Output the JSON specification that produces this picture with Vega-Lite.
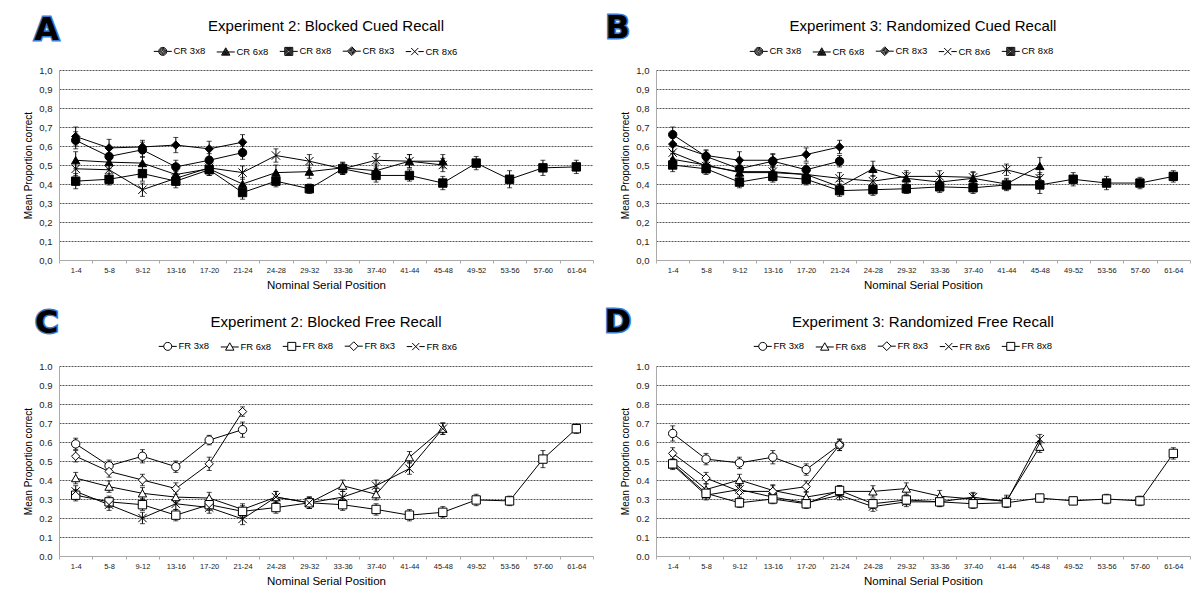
{
"$schema": "https://vega.github.io/schema/vega-lite/v6.json",
"background": "white",
"padding": {"left": 23, "top": 11, "right": 0, "bottom": 0},
"bounds": "flush",
"columns": 2,
"spacing": {"row": 106, "column": 63},
"resolve": {"scale": {"shape": "independent", "x": "independent", "y": "independent"}, "legend": {"shape": "independent"}},
"config": {
 "font": "Liberation Sans",
 "view": {"stroke": null},
 "title": {"font": "Liberation Sans", "fontSize": 15, "fontWeight": "normal", "color": "black", "anchor": "middle", "frame": "group", "baseline": "alphabetic"},
 "axisX": {"labelFontSize": 7.5, "labelAngle": 0, "labelColor": "#222", "labelPadding": 3, "labelOverlap": false, "tickBand": "extent", "tickSize": 3, "tickColor": "#aaa", "domainColor": "#aaa", "grid": false, "titleFontSize": 11.5, "titleFontWeight": "normal", "titleColor": "black", "titlePadding": 6},
 "axisY": {"labelFontSize": 9.5, "labelColor": "#222", "labelPadding": 7, "ticks": false, "domainColor": "#aaa", "grid": true, "gridColor": "#555", "gridDash": [2, 1], "titleFontSize": 10, "titleFontWeight": "normal", "titleColor": "black", "titlePadding": 5}
},
"concat": [
{
 "width": 534, "height": 190,
 "title": {"text": "Experiment 2: Blocked Cued Recall", "offset": -20.6},
 "resolve": {"scale": {"shape": "independent"}},
 "data": {"values": [
  {"s":"CR 3x8","x":"1-4","m":0.63,"e":0.045},{"s":"CR 3x8","x":"5-8","m":0.545,"e":0.04},{"s":"CR 3x8","x":"9-12","m":0.58,"e":0.04},{"s":"CR 3x8","x":"13-16","m":0.49,"e":0.035},{"s":"CR 3x8","x":"17-20","m":0.525,"e":0.035},{"s":"CR 3x8","x":"21-24","m":0.565,"e":0.035},
  {"s":"CR 6x8","x":"1-4","m":0.525,"e":0.045},{"s":"CR 6x8","x":"5-8","m":0.515,"e":0.035},{"s":"CR 6x8","x":"9-12","m":0.51,"e":0.035},{"s":"CR 6x8","x":"13-16","m":0.45,"e":0.035},{"s":"CR 6x8","x":"17-20","m":0.48,"e":0.035},{"s":"CR 6x8","x":"21-24","m":0.40,"e":0.035},{"s":"CR 6x8","x":"24-28","m":0.46,"e":0.04},{"s":"CR 6x8","x":"29-32","m":0.465,"e":0.035},{"s":"CR 6x8","x":"33-36","m":0.485,"e":0.03},{"s":"CR 6x8","x":"37-40","m":0.47,"e":0.035},{"s":"CR 6x8","x":"41-44","m":0.52,"e":0.035},{"s":"CR 6x8","x":"45-48","m":0.52,"e":0.035},
  {"s":"CR 8x8","x":"1-4","m":0.415,"e":0.04},{"s":"CR 8x8","x":"5-8","m":0.425,"e":0.03},{"s":"CR 8x8","x":"9-12","m":0.455,"e":0.04},{"s":"CR 8x8","x":"13-16","m":0.415,"e":0.035},{"s":"CR 8x8","x":"17-20","m":0.475,"e":0.03},{"s":"CR 8x8","x":"21-24","m":0.355,"e":0.035},{"s":"CR 8x8","x":"24-28","m":0.415,"e":0.03},{"s":"CR 8x8","x":"29-32","m":0.375,"e":0.025},{"s":"CR 8x8","x":"33-36","m":0.48,"e":0.03},{"s":"CR 8x8","x":"37-40","m":0.445,"e":0.035},{"s":"CR 8x8","x":"41-44","m":0.445,"e":0.03},{"s":"CR 8x8","x":"45-48","m":0.405,"e":0.035},{"s":"CR 8x8","x":"49-52","m":0.51,"e":0.035},{"s":"CR 8x8","x":"53-56","m":0.425,"e":0.045},{"s":"CR 8x8","x":"57-60","m":0.485,"e":0.04},{"s":"CR 8x8","x":"61-64","m":0.49,"e":0.035},
  {"s":"CR 8x3","x":"1-4","m":0.65,"e":0.05},{"s":"CR 8x3","x":"5-8","m":0.59,"e":0.045},{"s":"CR 8x3","x":"9-12","m":0.595,"e":0.035},{"s":"CR 8x3","x":"13-16","m":0.605,"e":0.04},{"s":"CR 8x3","x":"17-20","m":0.585,"e":0.04},{"s":"CR 8x3","x":"21-24","m":0.62,"e":0.04},
  {"s":"CR 8x6","x":"1-4","m":0.48,"e":0.035},{"s":"CR 8x6","x":"5-8","m":0.475,"e":0.035},{"s":"CR 8x6","x":"9-12","m":0.37,"e":0.035},{"s":"CR 8x6","x":"13-16","m":0.43,"e":0.035},{"s":"CR 8x6","x":"17-20","m":0.485,"e":0.03},{"s":"CR 8x6","x":"21-24","m":0.46,"e":0.035},{"s":"CR 8x6","x":"24-28","m":0.55,"e":0.035},{"s":"CR 8x6","x":"29-32","m":0.52,"e":0.035},{"s":"CR 8x6","x":"33-36","m":0.48,"e":0.03},{"s":"CR 8x6","x":"37-40","m":0.525,"e":0.035},{"s":"CR 8x6","x":"41-44","m":0.52,"e":0.035},{"s":"CR 8x6","x":"45-48","m":0.50,"e":0.035}
 ]},
 "encoding": {
  "x": {"field": "x", "type": "ordinal", "sort": ["1-4","5-8","9-12","13-16","17-20","21-24","24-28","29-32","33-36","37-40","41-44","45-48","49-52","53-56","57-60","61-64"], "axis": {"title": "Nominal Serial Position"}},
  "y": {"field": "m", "type": "quantitative", "scale": {"domain": [0, 1], "nice": false, "zero": false}, "axis": {"title": "Mean Proportion correct", "values": [0,0.1,0.2,0.3,0.4,0.5,0.6,0.7,0.8,0.9,1], "labelExpr": "replace(format(datum.value, '.1f'), '.', ',')", "gridOpacity": {"condition": {"test": "datum.value === 0", "value": 0}, "value": 1}}}
 },
 "layer": [
  {"mark": {"type": "line", "color": "black", "strokeWidth": 1}, "encoding": {"detail": {"field": "s", "type": "nominal"}}},
  {"mark": {"type": "errorbar", "color": "black", "thickness": 1, "ticks": {"size": 5, "color": "black", "thickness": 1}}, "encoding": {"yError": {"field": "e"}}},
  {"mark": {"type": "point", "filled": true, "fill": "black", "stroke": "black", "strokeWidth": 1, "size": 70, "opacity": 1},
   "encoding": {"shape": {"field": "s", "type": "nominal", "legend": null,
     "scale": {"domain": ["CR 3x8","CR 6x8","CR 8x8","CR 8x3","CR 8x6"], "range": ["circle","triangle-up","square","diamond","M-1,-1L1,1M-1,1L1,-1"]}}}},
  {"transform": [{"filter": "false"}], "mark": {"type": "point", "filled": false, "color": "black", "strokeWidth": 1, "size": 64, "opacity": 1},
   "encoding": {"shape": {"field": "s", "type": "nominal",
     "scale": {"domain": ["CR 3x8","CR 6x8","CR 8x8","CR 8x3","CR 8x6"], "range": [
       "M-2.25,0L-1,0M1,0L2.25,0M1,0A1,1,0,1,1,-1,0A1,1,0,1,1,1,0ZM0.75,0A0.75,0.75,0,1,1,-0.75,0A0.75,0.75,0,1,1,0.75,0ZM0.5,0A0.5,0.5,0,1,1,-0.5,0A0.5,0.5,0,1,1,0.5,0ZM0.25,0A0.25,0.25,0,1,1,-0.25,0A0.25,0.25,0,1,1,0.25,0Z",
       "M-2.25,0.1L-0.55,0.1M0.55,0.1L2.25,0.1M0,-0.95L1.05,0.9L-1.05,0.9ZM0,-0.58L0.74,0.71L-0.74,0.71ZM0,-0.21L0.42,0.53L-0.42,0.53ZM0,0.1L0.16,0.37L-0.16,0.37Z",
       "M-2.25,0L-1,0M1,0L2.25,0M-1,-1L1,-1L1,1L-1,1ZM-0.75,-0.75L0.75,-0.75L0.75,0.75L-0.75,0.75ZM-0.5,-0.5L0.5,-0.5L0.5,0.5L-0.5,0.5ZM-0.25,-0.25L0.25,-0.25L0.25,0.25L-0.25,0.25Z",
       "M-2.25,0L-1.1,0M1.1,0L2.25,0M0,-1.1L1.1,0L0,1.1L-1.1,0ZM0,-0.8L0.8,0L0,0.8L-0.8,0ZM0,-0.5L0.5,0L0,0.5L-0.5,0ZM0,-0.2L0.2,0L0,0.2L-0.2,0Z",
       "M-2.25,0L-0.9,0M0.9,0L2.25,0M-0.9,-0.9L0.9,0.9M-0.9,0.9L0.9,-0.9"]},
     "legend": {"orient": "none", "legendX": 99, "legendY": -24, "direction": "horizontal", "title": null, "labelFontSize": 9.5, "labelColor": "black", "labelFont": "Liberation Sans", "symbolSize": 64, "labelOffset": 6, "columnPadding": 8, "padding": 0, "symbolStrokeWidth": 1, "symbolOpacity": 1}}}},
  {"transform": [{"filter": "datum.s === 'CR 8x8' && datum.x === '1-4'"}], "mark": {"type": "text", "text": "A", "font": "DejaVu Sans", "fontWeight": "bold", "fontSize": 32, "align": "center", "baseline": "alphabetic", "dx": -29, "fill": "#3b7bd0", "stroke": "#3b7bd0", "strokeWidth": 3}, "encoding": {"x": {"datum": "1-4"}, "y": {"datum": 1.16}}},
  {"transform": [{"filter": "datum.s === 'CR 8x8' && datum.x === '1-4'"}], "mark": {"type": "text", "text": "A", "font": "DejaVu Sans", "fontWeight": "bold", "fontSize": 32, "align": "center", "baseline": "alphabetic", "dx": -29, "fill": "black"}, "encoding": {"x": {"datum": "1-4"}, "y": {"datum": 1.16}}}
 ]
},
{
 "width": 534, "height": 190,
 "title": {"text": "Experiment 3: Randomized Cued Recall", "offset": -22.5},
 "resolve": {"scale": {"shape": "independent"}},
 "data": {"values": [
  {"s":"CR 3x8","x":"1-4","m":0.66,"e":0.04},{"s":"CR 3x8","x":"5-8","m":0.545,"e":0.03},{"s":"CR 3x8","x":"9-12","m":0.48,"e":0.03},{"s":"CR 3x8","x":"13-16","m":0.52,"e":0.035},{"s":"CR 3x8","x":"17-20","m":0.475,"e":0.035},{"s":"CR 3x8","x":"21-24","m":0.52,"e":0.03},
  {"s":"CR 6x8","x":"1-4","m":0.53,"e":0.03},{"s":"CR 6x8","x":"5-8","m":0.50,"e":0.03},{"s":"CR 6x8","x":"9-12","m":0.46,"e":0.03},{"s":"CR 6x8","x":"13-16","m":0.46,"e":0.03},{"s":"CR 6x8","x":"17-20","m":0.45,"e":0.03},{"s":"CR 6x8","x":"21-24","m":0.385,"e":0.03},{"s":"CR 6x8","x":"24-28","m":0.48,"e":0.04},{"s":"CR 6x8","x":"29-32","m":0.43,"e":0.03},{"s":"CR 6x8","x":"33-36","m":0.41,"e":0.03},{"s":"CR 6x8","x":"37-40","m":0.43,"e":0.03},{"s":"CR 6x8","x":"41-44","m":0.40,"e":0.03},{"s":"CR 6x8","x":"45-48","m":0.495,"e":0.045},
  {"s":"CR 8x3","x":"1-4","m":0.61,"e":0.04},{"s":"CR 8x3","x":"5-8","m":0.55,"e":0.03},{"s":"CR 8x3","x":"9-12","m":0.525,"e":0.045},{"s":"CR 8x3","x":"13-16","m":0.525,"e":0.035},{"s":"CR 8x3","x":"17-20","m":0.555,"e":0.035},{"s":"CR 8x3","x":"21-24","m":0.595,"e":0.035},
  {"s":"CR 8x6","x":"1-4","m":0.565,"e":0.03},{"s":"CR 8x6","x":"5-8","m":0.495,"e":0.03},{"s":"CR 8x6","x":"9-12","m":0.465,"e":0.03},{"s":"CR 8x6","x":"13-16","m":0.465,"e":0.03},{"s":"CR 8x6","x":"17-20","m":0.45,"e":0.03},{"s":"CR 8x6","x":"21-24","m":0.43,"e":0.03},{"s":"CR 8x6","x":"24-28","m":0.415,"e":0.03},{"s":"CR 8x6","x":"29-32","m":0.44,"e":0.03},{"s":"CR 8x6","x":"33-36","m":0.44,"e":0.03},{"s":"CR 8x6","x":"37-40","m":0.435,"e":0.03},{"s":"CR 8x6","x":"41-44","m":0.475,"e":0.03},{"s":"CR 8x6","x":"45-48","m":0.43,"e":0.03},
  {"s":"CR 8x8","x":"1-4","m":0.50,"e":0.035},{"s":"CR 8x8","x":"5-8","m":0.48,"e":0.03},{"s":"CR 8x8","x":"9-12","m":0.41,"e":0.03},{"s":"CR 8x8","x":"13-16","m":0.44,"e":0.03},{"s":"CR 8x8","x":"17-20","m":0.425,"e":0.03},{"s":"CR 8x8","x":"21-24","m":0.365,"e":0.03},{"s":"CR 8x8","x":"24-28","m":0.37,"e":0.03},{"s":"CR 8x8","x":"29-32","m":0.375,"e":0.025},{"s":"CR 8x8","x":"33-36","m":0.385,"e":0.03},{"s":"CR 8x8","x":"37-40","m":0.38,"e":0.03},{"s":"CR 8x8","x":"41-44","m":0.395,"e":0.03},{"s":"CR 8x8","x":"45-48","m":0.395,"e":0.045},{"s":"CR 8x8","x":"49-52","m":0.425,"e":0.035},{"s":"CR 8x8","x":"53-56","m":0.405,"e":0.035},{"s":"CR 8x8","x":"57-60","m":0.405,"e":0.03},{"s":"CR 8x8","x":"61-64","m":0.44,"e":0.03}
 ]},
 "encoding": {
  "x": {"field": "x", "type": "ordinal", "sort": ["1-4","5-8","9-12","13-16","17-20","21-24","24-28","29-32","33-36","37-40","41-44","45-48","49-52","53-56","57-60","61-64"], "axis": {"title": "Nominal Serial Position"}},
  "y": {"field": "m", "type": "quantitative", "scale": {"domain": [0, 1], "nice": false, "zero": false}, "axis": {"title": "Mean Proportion correct", "values": [0,0.1,0.2,0.3,0.4,0.5,0.6,0.7,0.8,0.9,1], "labelExpr": "replace(format(datum.value, '.1f'), '.', ',')", "gridOpacity": {"condition": {"test": "datum.value === 0", "value": 0}, "value": 1}}}
 },
 "layer": [
  {"mark": {"type": "line", "color": "black", "strokeWidth": 1}, "encoding": {"detail": {"field": "s", "type": "nominal"}}},
  {"mark": {"type": "errorbar", "color": "black", "thickness": 1, "ticks": {"size": 5, "color": "black", "thickness": 1}}, "encoding": {"yError": {"field": "e"}}},
  {"mark": {"type": "point", "filled": true, "fill": "black", "stroke": "black", "strokeWidth": 1, "size": 70, "opacity": 1},
   "encoding": {"shape": {"field": "s", "type": "nominal", "legend": null,
     "scale": {"domain": ["CR 3x8","CR 6x8","CR 8x3","CR 8x6","CR 8x8"], "range": ["circle","triangle-up","diamond","M-1,-1L1,1M-1,1L1,-1","square"]}}}},
  {"transform": [{"filter": "false"}], "mark": {"type": "point", "filled": false, "color": "black", "strokeWidth": 1, "size": 64, "opacity": 1},
   "encoding": {"shape": {"field": "s", "type": "nominal",
     "scale": {"domain": ["CR 3x8","CR 6x8","CR 8x3","CR 8x6","CR 8x8"], "range": [
       "M-2.25,0L-1,0M1,0L2.25,0M1,0A1,1,0,1,1,-1,0A1,1,0,1,1,1,0ZM0.75,0A0.75,0.75,0,1,1,-0.75,0A0.75,0.75,0,1,1,0.75,0ZM0.5,0A0.5,0.5,0,1,1,-0.5,0A0.5,0.5,0,1,1,0.5,0ZM0.25,0A0.25,0.25,0,1,1,-0.25,0A0.25,0.25,0,1,1,0.25,0Z",
       "M-2.25,0.1L-0.55,0.1M0.55,0.1L2.25,0.1M0,-0.95L1.05,0.9L-1.05,0.9ZM0,-0.58L0.74,0.71L-0.74,0.71ZM0,-0.21L0.42,0.53L-0.42,0.53ZM0,0.1L0.16,0.37L-0.16,0.37Z",
       "M-2.25,0L-1.1,0M1.1,0L2.25,0M0,-1.1L1.1,0L0,1.1L-1.1,0ZM0,-0.8L0.8,0L0,0.8L-0.8,0ZM0,-0.5L0.5,0L0,0.5L-0.5,0ZM0,-0.2L0.2,0L0,0.2L-0.2,0Z",
       "M-2.25,0L-0.9,0M0.9,0L2.25,0M-0.9,-0.9L0.9,0.9M-0.9,0.9L0.9,-0.9",
       "M-2.25,0L-1,0M1,0L2.25,0M-1,-1L1,-1L1,1L-1,1ZM-0.75,-0.75L0.75,-0.75L0.75,0.75L-0.75,0.75ZM-0.5,-0.5L0.5,-0.5L0.5,0.5L-0.5,0.5ZM-0.25,-0.25L0.25,-0.25L0.25,0.25L-0.25,0.25Z"]},
     "legend": {"orient": "none", "legendX": 98, "legendY": -24, "direction": "horizontal", "title": null, "labelFontSize": 9.5, "labelColor": "black", "labelFont": "Liberation Sans", "symbolSize": 64, "labelOffset": 6, "columnPadding": 8, "padding": 0, "symbolStrokeWidth": 1, "symbolOpacity": 1}}}},
  {"transform": [{"filter": "datum.s === 'CR 8x8' && datum.x === '1-4'"}], "mark": {"type": "text", "text": "B", "font": "DejaVu Sans", "fontWeight": "bold", "fontSize": 32, "align": "center", "baseline": "alphabetic", "dx": -55, "fill": "#3b7bd0", "stroke": "#3b7bd0", "strokeWidth": 3}, "encoding": {"x": {"datum": "1-4"}, "y": {"datum": 1.17}}},
  {"transform": [{"filter": "datum.s === 'CR 8x8' && datum.x === '1-4'"}], "mark": {"type": "text", "text": "B", "font": "DejaVu Sans", "fontWeight": "bold", "fontSize": 32, "align": "center", "baseline": "alphabetic", "dx": -55, "fill": "black"}, "encoding": {"x": {"datum": "1-4"}, "y": {"datum": 1.17}}}
 ]
},
{
 "width": 534, "height": 190,
 "title": {"text": "Experiment 2: Blocked Free Recall", "offset": -23.5},
 "resolve": {"scale": {"shape": "independent"}},
 "data": {"values": [
  {"s":"FR 3x8","x":"1-4","m":0.59,"e":0.03},{"s":"FR 3x8","x":"5-8","m":0.475,"e":0.03},{"s":"FR 3x8","x":"9-12","m":0.525,"e":0.035},{"s":"FR 3x8","x":"13-16","m":0.47,"e":0.03},{"s":"FR 3x8","x":"17-20","m":0.61,"e":0.025},{"s":"FR 3x8","x":"21-24","m":0.665,"e":0.04},
  {"s":"FR 6x8","x":"1-4","m":0.41,"e":0.03},{"s":"FR 6x8","x":"5-8","m":0.365,"e":0.03},{"s":"FR 6x8","x":"9-12","m":0.33,"e":0.03},{"s":"FR 6x8","x":"13-16","m":0.31,"e":0.03},{"s":"FR 6x8","x":"17-20","m":0.305,"e":0.03},{"s":"FR 6x8","x":"21-24","m":0.245,"e":0.03},{"s":"FR 6x8","x":"24-28","m":0.31,"e":0.03},{"s":"FR 6x8","x":"29-32","m":0.28,"e":0.03},{"s":"FR 6x8","x":"33-36","m":0.37,"e":0.03},{"s":"FR 6x8","x":"37-40","m":0.325,"e":0.03},{"s":"FR 6x8","x":"41-44","m":0.52,"e":0.03},{"s":"FR 6x8","x":"45-48","m":0.67,"e":0.03},
  {"s":"FR 8x8","x":"1-4","m":0.32,"e":0.03},{"s":"FR 8x8","x":"5-8","m":0.285,"e":0.03},{"s":"FR 8x8","x":"9-12","m":0.27,"e":0.03},{"s":"FR 8x8","x":"13-16","m":0.215,"e":0.03},{"s":"FR 8x8","x":"17-20","m":0.27,"e":0.03},{"s":"FR 8x8","x":"21-24","m":0.235,"e":0.03},{"s":"FR 8x8","x":"24-28","m":0.255,"e":0.03},{"s":"FR 8x8","x":"29-32","m":0.28,"e":0.03},{"s":"FR 8x8","x":"33-36","m":0.27,"e":0.03},{"s":"FR 8x8","x":"37-40","m":0.245,"e":0.03},{"s":"FR 8x8","x":"41-44","m":0.215,"e":0.03},{"s":"FR 8x8","x":"45-48","m":0.23,"e":0.03},{"s":"FR 8x8","x":"49-52","m":0.295,"e":0.03},{"s":"FR 8x8","x":"53-56","m":0.29,"e":0.025},{"s":"FR 8x8","x":"57-60","m":0.51,"e":0.045},{"s":"FR 8x8","x":"61-64","m":0.67,"e":0.025},
  {"s":"FR 8x3","x":"1-4","m":0.525,"e":0.03},{"s":"FR 8x3","x":"5-8","m":0.445,"e":0.03},{"s":"FR 8x3","x":"9-12","m":0.40,"e":0.03},{"s":"FR 8x3","x":"13-16","m":0.355,"e":0.03},{"s":"FR 8x3","x":"17-20","m":0.485,"e":0.035},{"s":"FR 8x3","x":"21-24","m":0.76,"e":0.025},
  {"s":"FR 8x6","x":"1-4","m":0.34,"e":0.03},{"s":"FR 8x6","x":"5-8","m":0.27,"e":0.03},{"s":"FR 8x6","x":"9-12","m":0.20,"e":0.03},{"s":"FR 8x6","x":"13-16","m":0.275,"e":0.03},{"s":"FR 8x6","x":"17-20","m":0.255,"e":0.03},{"s":"FR 8x6","x":"21-24","m":0.195,"e":0.03},{"s":"FR 8x6","x":"24-28","m":0.31,"e":0.03},{"s":"FR 8x6","x":"29-32","m":0.28,"e":0.03},{"s":"FR 8x6","x":"33-36","m":0.31,"e":0.03},{"s":"FR 8x6","x":"37-40","m":0.37,"e":0.03},{"s":"FR 8x6","x":"41-44","m":0.46,"e":0.03},{"s":"FR 8x6","x":"45-48","m":0.67,"e":0.03}
 ]},
 "encoding": {
  "x": {"field": "x", "type": "ordinal", "sort": ["1-4","5-8","9-12","13-16","17-20","21-24","24-28","29-32","33-36","37-40","41-44","45-48","49-52","53-56","57-60","61-64"], "axis": {"title": "Nominal Serial Position"}},
  "y": {"field": "m", "type": "quantitative", "scale": {"domain": [0, 1], "nice": false, "zero": false}, "axis": {"title": "Mean Proportion correct", "values": [0,0.1,0.2,0.3,0.4,0.5,0.6,0.7,0.8,0.9,1], "format": ".1f", "gridOpacity": {"condition": {"test": "datum.value === 0", "value": 0}, "value": 1}}}
 },
 "layer": [
  {"mark": {"type": "line", "color": "black", "strokeWidth": 1}, "encoding": {"detail": {"field": "s", "type": "nominal"}}},
  {"mark": {"type": "errorbar", "color": "black", "thickness": 1, "ticks": {"size": 5, "color": "black", "thickness": 1}}, "encoding": {"yError": {"field": "e"}}},
  {"mark": {"type": "point", "filled": true, "fill": "white", "stroke": "black", "strokeWidth": 1, "size": 70, "opacity": 1},
   "encoding": {"shape": {"field": "s", "type": "nominal", "legend": null,
     "scale": {"domain": ["FR 3x8","FR 6x8","FR 8x8","FR 8x3","FR 8x6"], "range": ["circle","triangle-up","square","diamond","M-1,-1L1,1M-1,1L1,-1"]}}}},
  {"transform": [{"filter": "false"}], "mark": {"type": "point", "filled": false, "color": "black", "strokeWidth": 1, "size": 64, "opacity": 1},
   "encoding": {"shape": {"field": "s", "type": "nominal",
     "scale": {"domain": ["FR 3x8","FR 6x8","FR 8x8","FR 8x3","FR 8x6"], "range": ["M-2.25,0L-1,0M1,0L2.25,0M1,0A1,1,0,1,1,-1,0A1,1,0,1,1,1,0Z","M-2.25,0.1L-0.55,0.1M0.55,0.1L2.25,0.1M0,-0.95L1.05,0.9L-1.05,0.9Z","M-2.25,0L-1,0M1,0L2.25,0M-1,-1L1,-1L1,1L-1,1Z","M-2.25,0L-1.1,0M1.1,0L2.25,0M0,-1.1L1.1,0L0,1.1L-1.1,0Z","M-2.25,0L-0.9,0M0.9,0L2.25,0M-0.9,-0.9L0.9,0.9M-0.9,0.9L0.9,-0.9"]},
     "legend": {"orient": "none", "legendX": 104, "legendY": -25, "direction": "horizontal", "title": null, "labelFontSize": 9.5, "labelColor": "black", "labelFont": "Liberation Sans", "symbolSize": 64, "labelOffset": 6, "columnPadding": 8, "padding": 0, "symbolStrokeWidth": 1, "symbolOpacity": 1}}}},
  {"transform": [{"filter": "datum.s === 'FR 8x8' && datum.x === '1-4'"}], "mark": {"type": "text", "text": "C", "font": "DejaVu Sans", "fontWeight": "bold", "fontSize": 32, "align": "center", "baseline": "alphabetic", "dx": -29, "fill": "#3b7bd0", "stroke": "#3b7bd0", "strokeWidth": 3}, "encoding": {"x": {"datum": "1-4"}, "y": {"datum": 1.175}}},
  {"transform": [{"filter": "datum.s === 'FR 8x8' && datum.x === '1-4'"}], "mark": {"type": "text", "text": "C", "font": "DejaVu Sans", "fontWeight": "bold", "fontSize": 32, "align": "center", "baseline": "alphabetic", "dx": -29, "fill": "black"}, "encoding": {"x": {"datum": "1-4"}, "y": {"datum": 1.175}}}
 ]
},
{
 "width": 534, "height": 190,
 "title": {"text": "Experiment 3: Randomized Free Recall", "offset": -24.4},
 "resolve": {"scale": {"shape": "independent"}},
 "data": {"values": [
  {"s":"FR 3x8","x":"1-4","m":0.645,"e":0.04},{"s":"FR 3x8","x":"5-8","m":0.51,"e":0.03},{"s":"FR 3x8","x":"9-12","m":0.49,"e":0.03},{"s":"FR 3x8","x":"13-16","m":0.52,"e":0.035},{"s":"FR 3x8","x":"17-20","m":0.455,"e":0.03},{"s":"FR 3x8","x":"21-24","m":0.585,"e":0.03},
  {"s":"FR 6x8","x":"1-4","m":0.495,"e":0.03},{"s":"FR 6x8","x":"5-8","m":0.35,"e":0.03},{"s":"FR 6x8","x":"9-12","m":0.40,"e":0.03},{"s":"FR 6x8","x":"13-16","m":0.345,"e":0.03},{"s":"FR 6x8","x":"17-20","m":0.31,"e":0.03},{"s":"FR 6x8","x":"21-24","m":0.34,"e":0.03},{"s":"FR 6x8","x":"24-28","m":0.34,"e":0.03},{"s":"FR 6x8","x":"29-32","m":0.355,"e":0.03},{"s":"FR 6x8","x":"33-36","m":0.315,"e":0.03},{"s":"FR 6x8","x":"37-40","m":0.30,"e":0.03},{"s":"FR 6x8","x":"41-44","m":0.29,"e":0.03},{"s":"FR 6x8","x":"45-48","m":0.575,"e":0.03},
  {"s":"FR 8x3","x":"1-4","m":0.54,"e":0.03},{"s":"FR 8x3","x":"5-8","m":0.41,"e":0.03},{"s":"FR 8x3","x":"9-12","m":0.34,"e":0.03},{"s":"FR 8x3","x":"13-16","m":0.34,"e":0.03},{"s":"FR 8x3","x":"17-20","m":0.365,"e":0.03},{"s":"FR 8x3","x":"21-24","m":0.585,"e":0.03},
  {"s":"FR 8x6","x":"1-4","m":0.48,"e":0.025},{"s":"FR 8x6","x":"5-8","m":0.32,"e":0.025},{"s":"FR 8x6","x":"9-12","m":0.35,"e":0.025},{"s":"FR 8x6","x":"13-16","m":0.31,"e":0.025},{"s":"FR 8x6","x":"17-20","m":0.28,"e":0.025},{"s":"FR 8x6","x":"21-24","m":0.32,"e":0.025},{"s":"FR 8x6","x":"24-28","m":0.26,"e":0.025},{"s":"FR 8x6","x":"29-32","m":0.285,"e":0.025},{"s":"FR 8x6","x":"33-36","m":0.285,"e":0.025},{"s":"FR 8x6","x":"37-40","m":0.31,"e":0.025},{"s":"FR 8x6","x":"41-44","m":0.285,"e":0.025},{"s":"FR 8x6","x":"45-48","m":0.615,"e":0.025},
  {"s":"FR 8x8","x":"1-4","m":0.485,"e":0.025},{"s":"FR 8x8","x":"5-8","m":0.33,"e":0.025},{"s":"FR 8x8","x":"9-12","m":0.28,"e":0.025},{"s":"FR 8x8","x":"13-16","m":0.30,"e":0.025},{"s":"FR 8x8","x":"17-20","m":0.275,"e":0.025},{"s":"FR 8x8","x":"21-24","m":0.345,"e":0.025},{"s":"FR 8x8","x":"24-28","m":0.275,"e":0.025},{"s":"FR 8x8","x":"29-32","m":0.295,"e":0.025},{"s":"FR 8x8","x":"33-36","m":0.285,"e":0.025},{"s":"FR 8x8","x":"37-40","m":0.275,"e":0.025},{"s":"FR 8x8","x":"41-44","m":0.28,"e":0.025},{"s":"FR 8x8","x":"45-48","m":0.305,"e":0.02},{"s":"FR 8x8","x":"49-52","m":0.29,"e":0.02},{"s":"FR 8x8","x":"53-56","m":0.30,"e":0.025},{"s":"FR 8x8","x":"57-60","m":0.29,"e":0.025},{"s":"FR 8x8","x":"61-64","m":0.54,"e":0.03}
 ]},
 "encoding": {
  "x": {"field": "x", "type": "ordinal", "sort": ["1-4","5-8","9-12","13-16","17-20","21-24","24-28","29-32","33-36","37-40","41-44","45-48","49-52","53-56","57-60","61-64"], "axis": {"title": "Nominal Serial Position"}},
  "y": {"field": "m", "type": "quantitative", "scale": {"domain": [0, 1], "nice": false, "zero": false}, "axis": {"title": "Mean Proportion correct", "values": [0,0.1,0.2,0.3,0.4,0.5,0.6,0.7,0.8,0.9,1], "format": ".1f", "gridOpacity": {"condition": {"test": "datum.value === 0", "value": 0}, "value": 1}}}
 },
 "layer": [
  {"mark": {"type": "line", "color": "black", "strokeWidth": 1}, "encoding": {"detail": {"field": "s", "type": "nominal"}}},
  {"mark": {"type": "errorbar", "color": "black", "thickness": 1, "ticks": {"size": 5, "color": "black", "thickness": 1}}, "encoding": {"yError": {"field": "e"}}},
  {"mark": {"type": "point", "filled": true, "fill": "white", "stroke": "black", "strokeWidth": 1, "size": 70, "opacity": 1},
   "encoding": {"shape": {"field": "s", "type": "nominal", "legend": null,
     "scale": {"domain": ["FR 3x8","FR 6x8","FR 8x3","FR 8x6","FR 8x8"], "range": ["circle","triangle-up","diamond","M-1,-1L1,1M-1,1L1,-1","square"]}}}},
  {"transform": [{"filter": "false"}], "mark": {"type": "point", "filled": false, "color": "black", "strokeWidth": 1, "size": 64, "opacity": 1},
   "encoding": {"shape": {"field": "s", "type": "nominal",
     "scale": {"domain": ["FR 3x8","FR 6x8","FR 8x3","FR 8x6","FR 8x8"], "range": ["M-2.25,0L-1,0M1,0L2.25,0M1,0A1,1,0,1,1,-1,0A1,1,0,1,1,1,0Z","M-2.25,0.1L-0.55,0.1M0.55,0.1L2.25,0.1M0,-0.95L1.05,0.9L-1.05,0.9Z","M-2.25,0L-1.1,0M1.1,0L2.25,0M0,-1.1L1.1,0L0,1.1L-1.1,0Z","M-2.25,0L-0.9,0M0.9,0L2.25,0M-0.9,-0.9L0.9,0.9M-0.9,0.9L0.9,-0.9","M-2.25,0L-1,0M1,0L2.25,0M-1,-1L1,-1L1,1L-1,1Z"]},
     "legend": {"orient": "none", "legendX": 102, "legendY": -25, "direction": "horizontal", "title": null, "labelFontSize": 9.5, "labelColor": "black", "labelFont": "Liberation Sans", "symbolSize": 64, "labelOffset": 6, "columnPadding": 8, "padding": 0, "symbolStrokeWidth": 1, "symbolOpacity": 1}}}},
  {"transform": [{"filter": "datum.s === 'FR 8x8' && datum.x === '1-4'"}], "mark": {"type": "text", "text": "D", "font": "DejaVu Sans", "fontWeight": "bold", "fontSize": 32, "align": "center", "baseline": "alphabetic", "dx": -55, "fill": "#3b7bd0", "stroke": "#3b7bd0", "strokeWidth": 3}, "encoding": {"x": {"datum": "1-4"}, "y": {"datum": 1.18}}},
  {"transform": [{"filter": "datum.s === 'FR 8x8' && datum.x === '1-4'"}], "mark": {"type": "text", "text": "D", "font": "DejaVu Sans", "fontWeight": "bold", "fontSize": 32, "align": "center", "baseline": "alphabetic", "dx": -55, "fill": "black"}, "encoding": {"x": {"datum": "1-4"}, "y": {"datum": 1.18}}}
 ]
}
]
}
